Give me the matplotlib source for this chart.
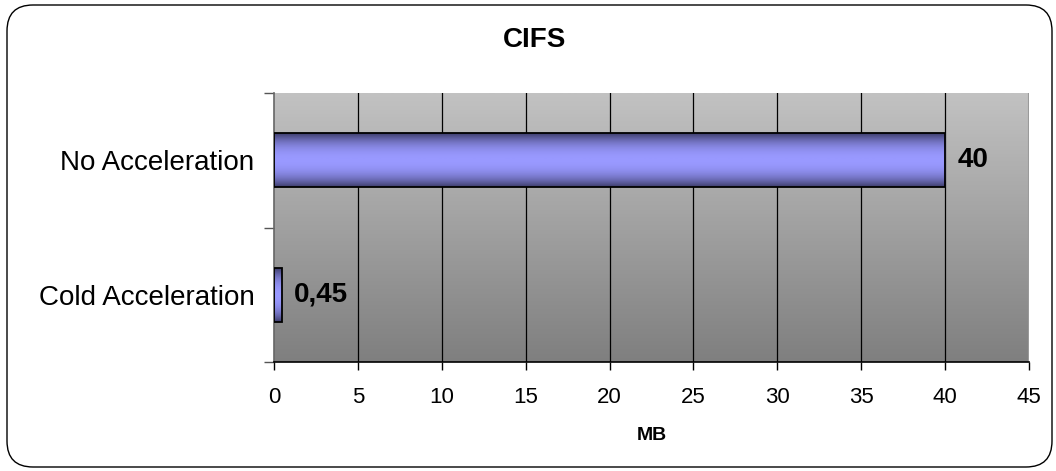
import numpy as np
import matplotlib
matplotlib.use("Agg")
import matplotlib.pyplot as plt
from matplotlib.colors import LinearSegmentedColormap
from matplotlib.patches import FancyBboxPatch

plt.rcParams["font.family"] = ["Liberation Sans", "DejaVu Sans"]

categories = ["Cold Acceleration", "No Acceleration"]
values = [0.45, 40]
value_labels = ["0,45", "40"]
xticks = [0, 5, 10, 15, 20, 25, 30, 35, 40, 45]

fig = plt.figure(figsize=(10.56, 4.71), dpi=100)
ax = fig.add_axes([274 / 1056, 109 / 471, 755 / 1056, 269 / 471])

# rounded frame around the whole chart
frame = FancyBboxPatch((0.07, 0.04), 10.45, 4.62,
                       boxstyle="round,pad=0,rounding_size=0.26",
                       transform=fig.dpi_scale_trans, fill=False,
                       edgecolor="black", linewidth=1.0, zorder=10)
fig.patches.append(frame)

ax.set_xlim(0, 45)
ax.set_ylim(0, 2)

# grey gradient plot area
bg = LinearSegmentedColormap.from_list("bg", ["#7f7f7f", "#c2c2c2"])
ax.imshow(np.linspace(0, 1, 256).reshape(-1, 1), cmap=bg, aspect="auto",
          extent=(0, 45, 0, 2), origin="lower", zorder=0)

for x in xticks[1:-1]:
    ax.axvline(x, color="black", linewidth=0.9, zorder=1)
ax.axvline(45, color="#9a9a9a", linewidth=1.5, zorder=1)

# bars with a horizontal-band gradient
t = np.linspace(-1, 1, 101)
shade = np.abs(t) ** 2.2
bar_cmap = LinearSegmentedColormap.from_list("bar", ["#9999ff", "#3e3e6c"])
ypos = [0.5, 1.5]
h = 0.4
for y, v, lab in zip(ypos, values, value_labels):
    ax.imshow(shade.reshape(-1, 1), cmap=bar_cmap, vmin=0, vmax=1, aspect="auto",
              extent=(0, v, y - h / 2, y + h / 2), origin="lower", zorder=2)
    ax.add_patch(plt.Rectangle((0, y - h / 2), v, h, fill=False,
                               edgecolor="black", linewidth=1.3, zorder=3))
    ax.annotate(lab, (v, y), xytext=(9, 0), textcoords="offset points",
                ha="left", va="center", fontsize=20, fontweight="bold", zorder=4)

ax.set_xlim(0, 45)
ax.set_ylim(0, 2)

ax.set_xticks(xticks)
ax.set_xticklabels([str(x) for x in xticks], fontsize=16)
ax.tick_params(axis="x", direction="out", length=6, width=1, pad=12)

ax.set_yticks([0, 1, 2])
ax.set_yticklabels([])
ax.tick_params(axis="y", direction="out", length=7, width=1, color="#555555")
ax.set_yticks(ypos, minor=True)
ax.set_yticklabels(categories, minor=True, fontsize=20)
ax.tick_params(axis="y", which="minor", length=0, pad=14)

for s in ["top", "right"]:
    ax.spines[s].set_visible(False)
ax.spines["left"].set_color("#666666")
ax.spines["left"].set_linewidth(1.2)
ax.spines["bottom"].set_color("black")
ax.spines["bottom"].set_linewidth(1.2)

ax.set_xlabel("MB", fontsize=14, fontweight="bold", labelpad=14)
fig.text(535 / 1056, 1 - 40 / 471, "CIFS", ha="center", va="center",
         fontsize=20, fontweight="bold")

fig.savefig("out.png", dpi=100)
